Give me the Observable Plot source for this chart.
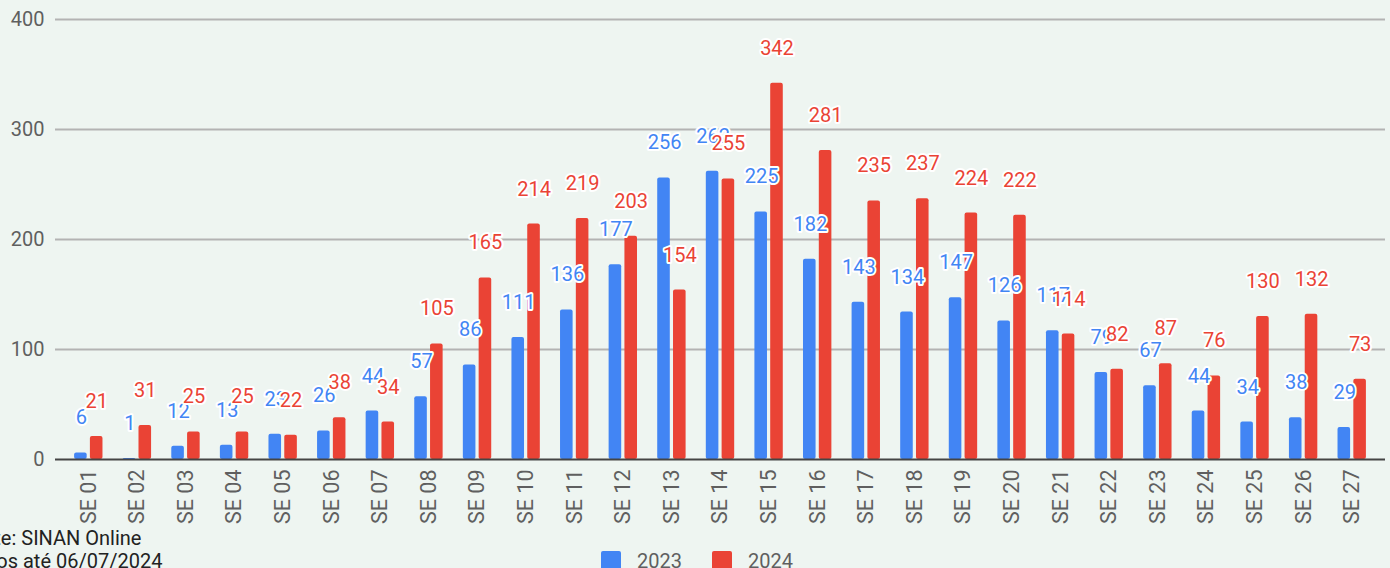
<!DOCTYPE html>
<html>
<head>
<meta charset="utf-8">
<script src="https://cdn.jsdelivr.net/npm/d3@7"></script>
<script src="https://cdn.jsdelivr.net/npm/@observablehq/plot@0.6"></script>
<style>
  html, body { margin: 0; padding: 0; background: #eef5f1; overflow: hidden; }
  body { width: 1390px; height: 568px; position: relative; font-family: Roboto, "Noto Sans", sans-serif; }
  #chart { position: absolute; left: 0; top: 0; }
  #chart svg g[aria-label^="x-axis"] text, #chart svg g[aria-label^="x-axis"] { font-size: 21.5px !important; }
  #source { position: absolute; left: -39px; top: 527px; font-size: 20px; line-height: 23px; color: #222; white-space: nowrap; }
  #legend { position: absolute; left: 601px; top: 549px; display: flex; align-items: center; font-size: 20px; color: #5f5f5f; }
  #legend .item { display: flex; align-items: center; margin-right: 30px; }
  #legend .sw { width: 20px; height: 20px; border-radius: 2px; margin-right: 16px; }
</style>
</head>
<body>
<div id="chart"></div>
<div id="source"></div>
<div id="legend"></div>
<script>
const weeks = ["SE 01","SE 02","SE 03","SE 04","SE 05","SE 06","SE 07","SE 08","SE 09","SE 10","SE 11","SE 12","SE 13","SE 14","SE 15","SE 16","SE 17","SE 18","SE 19","SE 20","SE 21","SE 22","SE 23","SE 24","SE 25","SE 26","SE 27"];
const values2023 = [6,1,12,13,23,26,44,57,86,111,136,177,256,262,225,182,143,134,147,126,117,79,67,44,34,38,29];
const values2024 = [21,31,25,25,22,38,34,105,165,214,219,203,154,255,342,281,235,237,224,222,114,82,87,76,130,132,73];
const years = ["2023", "2024"];
const colors = ["#4285f4", "#ea4335"];
const yTicks = [0, 100, 200, 300, 400];
const sourceLines = ["Fonte: SINAN Online", "Dados até 06/07/2024"];

const d23 = weeks.map((w, i) => ({week: w, value: values2023[i]}));
const d24 = weeks.map((w, i) => ({week: w, value: values2024[i]}));

const chart = Plot.plot({
  width: 1390,
  height: 530,
  marginTop: 19,
  marginBottom: 71,
  marginLeft: 55,
  marginRight: 5,
  style: {background: "transparent", fontFamily: "Roboto, sans-serif", fontSize: "20px", color: "#5f5f5f"},
  x: {domain: weeks, round: false, paddingInner: 0.383, paddingOuter: 0.3765, tickRotate: -90, tickSize: 0, tickPadding: 10, label: null},
  y: {domain: [0, 400], ticks: yTicks, tickSize: 0, tickPadding: 11, label: null},
  marks: [
    Plot.ruleY(yTicks.filter(t => t > 0), {stroke: "#b3b3b3", strokeWidth: 2}),
    Plot.barY(d23, {x: "week", y: "value", fill: colors[0], insetLeft: 0.8, insetRight: 16.6, rx: 2}),
    Plot.barY(d24, {x: "week", y: "value", fill: colors[1], insetLeft: 16.6, insetRight: 0.8, rx: 2}),
    Plot.ruleY([0], {stroke: "#444", strokeWidth: 2}),
    Plot.text(d23, {x: "week", y: "value", text: d => String(d.value), dx: -7.4, dy: -35, lineAnchor: "middle", fill: colors[0], stroke: "white", strokeWidth: 4, paintOrder: "stroke", fontSize: 20}),
    Plot.text(d24, {x: "week", y: "value", text: d => String(d.value), dx: 7.9, dy: -35, lineAnchor: "middle", fill: colors[1], stroke: "white", strokeWidth: 4, paintOrder: "stroke", fontSize: 20})
  ]
});
document.getElementById("chart").appendChild(chart);

document.getElementById("source").innerHTML = sourceLines.join("<br>");
const legend = document.getElementById("legend");
years.forEach((y, i) => {
  const item = document.createElement("div");
  item.className = "item";
  const sw = document.createElement("div");
  sw.className = "sw";
  sw.style.background = colors[i];
  const t = document.createElement("span");
  t.textContent = y;
  item.appendChild(sw);
  item.appendChild(t);
  legend.appendChild(item);
});
</script>
</body>
</html>
